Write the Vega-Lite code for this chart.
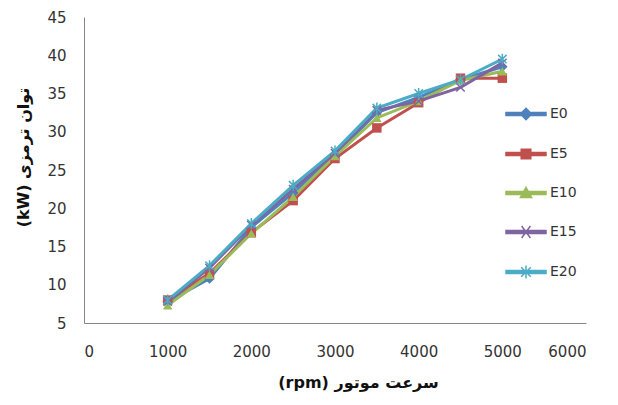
{
  "$schema": "https://vega.github.io/schema/vega-lite/v6.json",
  "autosize": "none",
  "width": 502,
  "height": 306,
  "padding": {"left": 84, "top": 17, "right": 32, "bottom": 82},
  "background": "white",
  "config": {
    "view": {"stroke": null},
    "font": "DejaVu Sans",
    "axis": {
      "grid": false,
      "ticks": false,
      "domainColor": "#868686",
      "domainWidth": 1,
      "labelColor": "#333333",
      "labelFontSize": 15,
      "labelFont": "DejaVu Sans",
      "titleFont": "DejaVu Sans",
      "titleFontSize": 16,
      "titleFontWeight": "bold",
      "titleColor": "#111111"
    },
    "legend": {
      "orient": "none",
      "legendX": 421,
      "legendY": 76,
      "padding": 0,
      "rowPadding": 10,
      "symbolSize": 1600,
      "labelOffset": 3,
      "labelFontSize": 14,
      "labelColor": "#333333",
      "labelFont": "DejaVu Sans",
      "symbolStrokeWidth": 1.5,
      "symbolOpacity": 1
    }
  },
  "data": {
    "values": [
      {"rpm": 1000, "series": "E0", "kw": 7.8},
      {"rpm": 1500, "series": "E0", "kw": 10.8},
      {"rpm": 2000, "series": "E0", "kw": 17.5},
      {"rpm": 2500, "series": "E0", "kw": 22.0},
      {"rpm": 3000, "series": "E0", "kw": 27.0},
      {"rpm": 3500, "series": "E0", "kw": 32.5},
      {"rpm": 4000, "series": "E0", "kw": 34.5},
      {"rpm": 4500, "series": "E0", "kw": 36.8},
      {"rpm": 5000, "series": "E0", "kw": 38.5},
      {"rpm": 1000, "series": "E5", "kw": 8.0},
      {"rpm": 1500, "series": "E5", "kw": 11.5},
      {"rpm": 2000, "series": "E5", "kw": 16.8},
      {"rpm": 2500, "series": "E5", "kw": 21.0},
      {"rpm": 3000, "series": "E5", "kw": 26.5},
      {"rpm": 3500, "series": "E5", "kw": 30.5},
      {"rpm": 4000, "series": "E5", "kw": 33.8},
      {"rpm": 4500, "series": "E5", "kw": 37.0},
      {"rpm": 5000, "series": "E5", "kw": 37.0},
      {"rpm": 1000, "series": "E10", "kw": 7.3},
      {"rpm": 1500, "series": "E10", "kw": 11.3},
      {"rpm": 2000, "series": "E10", "kw": 16.7},
      {"rpm": 2500, "series": "E10", "kw": 21.5},
      {"rpm": 3000, "series": "E10", "kw": 26.8},
      {"rpm": 3500, "series": "E10", "kw": 31.8},
      {"rpm": 4000, "series": "E10", "kw": 34.0},
      {"rpm": 4500, "series": "E10", "kw": 36.7},
      {"rpm": 5000, "series": "E10", "kw": 37.9},
      {"rpm": 1000, "series": "E15", "kw": 7.8},
      {"rpm": 1500, "series": "E15", "kw": 12.2},
      {"rpm": 2000, "series": "E15", "kw": 17.8},
      {"rpm": 2500, "series": "E15", "kw": 22.5},
      {"rpm": 3000, "series": "E15", "kw": 27.2},
      {"rpm": 3500, "series": "E15", "kw": 32.8},
      {"rpm": 4000, "series": "E15", "kw": 34.0},
      {"rpm": 4500, "series": "E15", "kw": 35.8},
      {"rpm": 5000, "series": "E15", "kw": 39.0},
      {"rpm": 1000, "series": "E20", "kw": 8.0},
      {"rpm": 1500, "series": "E20", "kw": 12.5},
      {"rpm": 2000, "series": "E20", "kw": 18.0},
      {"rpm": 2500, "series": "E20", "kw": 23.0},
      {"rpm": 3000, "series": "E20", "kw": 27.5},
      {"rpm": 3500, "series": "E20", "kw": 33.1},
      {"rpm": 4000, "series": "E20", "kw": 35.0},
      {"rpm": 4500, "series": "E20", "kw": 36.8},
      {"rpm": 5000, "series": "E20", "kw": 39.5}
    ]
  },
  "encoding": {
    "x": {
      "field": "rpm",
      "type": "quantitative",
      "scale": {"domain": [0, 6000], "nice": false},
      "axis": {
        "values": [0, 1000, 2000, 3000, 4000, 5000, 6000],
        "format": "d",
        "labelPadding": 21,
        "title": "(rpm)  سرعت موتور",
        "titleX": 274,
        "titleY": 59,
        "titleBaseline": "middle"
      }
    },
    "y": {
      "field": "kw",
      "type": "quantitative",
      "scale": {"domain": [5, 45], "zero": false, "nice": false},
      "axis": {
        "values": [5, 10, 15, 20, 25, 30, 35, 40, 45],
        "format": "d",
        "labelPadding": 18,
        "title": "(kW)  توان ترمزی",
        "titleX": -61,
        "titleY": 140,
        "titleBaseline": "middle",
        "titleAngle": -90
      }
    },
    "color": {
      "field": "series",
      "type": "nominal",
      "title": null,
      "scale": {
        "domain": ["E0", "E5", "E10", "E15", "E20"],
        "range": ["#4F81BD", "#C0504D", "#9BBB59", "#8064A2", "#4BACC6"]
      }
    }
  },
  "layer": [
    {
      "mark": {"type": "line", "strokeWidth": 3}
    },
    {
      "transform": [{"filter": "datum.series == 'E0'"}],
      "mark": {"type": "point", "shape": "diamond", "filled": true, "opacity": 1, "size": 110}
    },
    {
      "transform": [{"filter": "datum.series == 'E5'"}],
      "mark": {"type": "point", "shape": "square", "filled": true, "opacity": 1, "size": 90}
    },
    {
      "transform": [{"filter": "datum.series == 'E10'"}],
      "mark": {"type": "point", "shape": "triangle-up", "filled": true, "opacity": 1, "size": 90}
    },
    {
      "transform": [{"filter": "datum.series == 'E15'"}],
      "mark": {"type": "point", "shape": "M-1,-1L1,1M-1,1L1,-1", "filled": false, "opacity": 1, "strokeWidth": 1.5, "size": 70}
    },
    {
      "transform": [{"filter": "datum.series == 'E20'"}],
      "mark": {"type": "point", "shape": "M-1,-1L1,1M-1,1L1,-1M0,-1.3V1.3", "filled": false, "opacity": 1, "strokeWidth": 1.5, "size": 70}
    },
    {
      "mark": {"type": "point", "filled": true, "opacity": 0, "size": 1600},
      "encoding": {
        "shape": {
          "field": "series",
          "type": "nominal",
          "title": null,
          "scale": {
            "domain": ["E0", "E5", "E10", "E15", "E20"],
            "range": [
              "M-1,-0.07H1V0.07H-1ZM0,-0.28L0.28,0L0,0.28L-0.28,0Z",
              "M-1,-0.07H1V0.07H-1ZM-0.24,-0.24H0.24V0.24H-0.24Z",
              "M-1,-0.07H1V0.07H-1ZM0,-0.28L0.28,0.22H-0.28Z",
              "M-1,-0.07H1V0.07H-1ZM-0.22,-0.3L0.22,0.3M-0.22,0.3L0.22,-0.3",
              "M-1,-0.07H1V0.07H-1ZM-0.24,-0.24L0.24,0.24M-0.24,0.24L0.24,-0.24M0,-0.32V0.32"
            ]
          },
          "legend": {
            "encode": {
              "symbols": {
                "update": {
                  "opacity": {"value": 1},
                  "fill": {"scale": "color", "field": "value"},
                  "fillOpacity": {"value": 1},
                  "strokeOpacity": {"value": 1},
                  "stroke": {"scale": "color", "field": "value"},
                  "strokeWidth": {"value": 1.5}
                }
              }
            }
          }
        }
      }
    }
  ]
}
